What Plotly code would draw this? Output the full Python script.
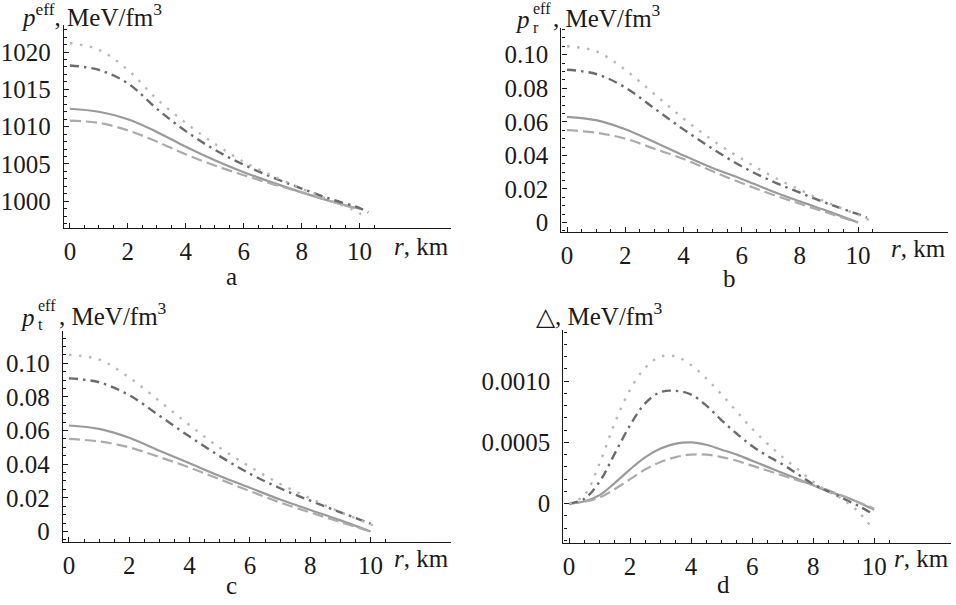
import plotly.graph_objects as go

# ---------------- data ----------------
# panel a: effective pressure p_eff (MeV/fm^3) vs r (km)
a_r_solid = [0, 1, 2, 3, 4, 5, 6, 7, 8, 9, 10]
a_solid = [1012.4, 1012.0, 1011.0, 1009.3, 1007.3, 1005.5, 1003.9, 1002.5, 1001.2, 1000.0, 999.0]
a_r_dashed = [0, 1, 2, 3, 4, 5, 6, 7, 8, 9, 10]
a_dashed = [1010.8, 1010.5, 1009.5, 1008.0, 1006.3, 1004.8, 1003.5, 1002.3, 1001.2, 1000.0, 998.9]
a_r_dashdot = [0, 1, 2, 3, 4, 5, 6, 7, 8, 9, 10, 10.3]
a_dashdot = [1018.2, 1017.6, 1015.8, 1012.4, 1009.4, 1006.9, 1004.9, 1003.2, 1001.7, 1000.3, 999.1, 998.5]
a_r_dotted = [0, 1, 2, 3, 4, 5, 6, 7, 8, 9, 10, 10.25]
a_dotted = [1021.2, 1020.3, 1017.6, 1013.7, 1010.5, 1007.7, 1005.3, 1003.4, 1001.7, 1000.1, 998.4, 997.6]

# panel b: radial effective pressure
b_r_solid = [0, 1, 2, 3, 4, 5, 6, 7, 8, 9, 10]
b_solid = [0.063, 0.061, 0.0556, 0.048, 0.040, 0.0325, 0.026, 0.019, 0.0126, 0.0065, 0.0]
b_r_dashed = [0, 1, 2, 3, 4, 5, 6, 7, 8, 9, 10]
b_dashed = [0.055, 0.0535, 0.050, 0.044, 0.0379, 0.0305, 0.0235, 0.017, 0.0112, 0.0055, 0.0]
b_r_dashdot = [0, 1, 2, 3, 4, 5, 6, 7, 8, 9, 10, 10.3]
b_dashdot = [0.091, 0.0885, 0.0805, 0.068, 0.0555, 0.044, 0.0335, 0.025, 0.0178, 0.011, 0.0050, 0.0030]
b_r_dotted = [0, 1, 2, 3, 4, 5, 6, 7, 8, 9, 10, 10.55]
b_dotted = [0.105, 0.102, 0.091, 0.0765, 0.062, 0.049, 0.038, 0.028, 0.0195, 0.0115, 0.0045, 0.0]

# panel c: tangential effective pressure
c_r_solid = [0, 1, 2, 3, 4, 5, 6, 7, 8, 9, 10]
c_solid = [0.063, 0.061, 0.0557, 0.048, 0.0405, 0.033, 0.026, 0.019, 0.0128, 0.0066, 0.0]
c_r_dashed = [0, 1, 2, 3, 4, 5, 6, 7, 8, 9, 10]
c_dashed = [0.055, 0.0535, 0.050, 0.0442, 0.038, 0.031, 0.024, 0.0172, 0.0113, 0.0056, 0.0]
c_r_dashdot = [0, 1, 2, 3, 4, 5, 6, 7, 8, 9, 10]
c_dashdot = [0.091, 0.0887, 0.081, 0.0688, 0.0564, 0.0448, 0.0343, 0.0257, 0.0183, 0.0114, 0.0046]
c_r_dotted = [0, 1, 2, 3, 4, 5, 6, 7, 8, 9, 10, 10.2]
c_dotted = [0.105, 0.1022, 0.0915, 0.0775, 0.0632, 0.0498, 0.0385, 0.0283, 0.0197, 0.0115, 0.0042, 0.0030]

# panel d: anisotropy
d_r = [0, 0.5, 1, 1.5, 2, 2.5, 3, 3.5, 4, 4.5, 5, 5.5, 6, 6.5, 7, 7.5, 8, 8.5, 9, 9.5, 10]
d_solid = [0, 0.00002, 0.00007, 0.00017, 0.00028, 0.00038, 0.00045, 0.00049, 0.00050, 0.00048,
           0.00044, 0.00040, 0.00035, 0.00030, 0.00025, 0.00020, 0.00015, 0.00010, 0.00006,
           0.00001, -0.00005]
d_dashed = [0, 0.000015, 0.00005, 0.00012, 0.00020, 0.00028, 0.00034, 0.00038, 0.00040, 0.00040,
            0.00038, 0.00035, 0.00031, 0.00027, 0.00023, 0.00019, 0.00015, 0.00011, 0.00006,
            0.00001, -0.00004]
d_dashdot = [0, 0.00004, 0.00018, 0.00041, 0.00064, 0.00082, 0.00091, 0.00092, 0.00089, 0.00080,
             0.00068, 0.00057, 0.00047, 0.00039, 0.00032, 0.00024, 0.00016, 0.00010, 0.00004,
             -0.00002, -0.00009]
d_dotted = [0, 0.00007, 0.00033, 0.00066, 0.00093, 0.00111, 0.00120, 0.00120, 0.00113, 0.00102,
            0.00089, 0.00075, 0.00061, 0.00049, 0.00038, 0.00028, 0.00018, 0.00010, 0.00003,
            -0.00007, -0.00022]

# tick values / labels
x_major = [0, 2, 4, 6, 8, 10]
x_minor = [0.5 * i for i in range(22)]
a_y_major = [1000, 1005, 1010, 1015, 1020]
a_y_minor = list(range(997, 1024))
bc_y_major = [0, 0.02, 0.04, 0.06, 0.08, 0.10]
bc_y_labels = ["0", "0.02", "0.04", "0.06", "0.08", "0.10"]
bc_y_minor = [0.005 * i for i in range(-1, 24)]
d_y_major = [0, 0.0005, 0.0010]
d_y_labels = ["0", "0.0005", "0.0010"]
d_y_minor = [0.0001 * i for i in range(-3, 15)]

# ---------------- layout ----------------
W, H = 956, 605
SERIF = "Liberation Serif"
INK = "#1a1a1a"

styles = {
    "solid": dict(color="#9a9a9a", width=2.2, dash="solid"),
    "dashed": dict(color="#ababab", width=2.2, dash="11px,5px"),
    "dashdot": dict(color="#6b6b6b", width=2.4, dash="9px,5px,2.5px,5px"),
    "dotted": dict(color="#b8b8b8", width=2.4, dash="2.5px,7.5px"),
}

fig = go.Figure()

panels = [
    # suffix, series, plot box (left, right, top, bottom px), x range, y range
    ("", [(a_r_solid, a_solid, "solid"), (a_r_dashed, a_dashed, "dashed"),
          (a_r_dashdot, a_dashdot, "dashdot"), (a_r_dotted, a_dotted, "dotted")],
     (63, 450, 25, 230), (-0.207, 13.14), (996.36, 1023.64),
     a_y_major, None, a_y_minor),
    ("2", [(b_r_solid, b_solid, "solid"), (b_r_dashed, b_dashed, "dashed"),
           (b_r_dashdot, b_dashdot, "dashdot"), (b_r_dotted, b_dotted, "dotted")],
     (561, 948, 28, 234), (-0.192, 13.09), (-0.0059, 0.116),
     bc_y_major, bc_y_labels, bc_y_minor),
    ("3", [(c_r_solid, c_solid, "solid"), (c_r_dashed, c_dashed, "dashed"),
           (c_r_dashdot, c_dashdot, "dashdot"), (c_r_dotted, c_dotted, "dotted")],
     (62, 450, 333, 546), (-0.199, 12.65), (-0.0065, 0.1193),
     bc_y_major, bc_y_labels, bc_y_minor),
    ("4", [(d_r, d_solid, "solid"), (d_r, d_dashed, "dashed"),
           (d_r, d_dashdot, "dashdot"), (d_r, d_dotted, "dotted")],
     (563, 951, 332, 547), (-0.187, 12.52), (-0.000324, 0.001418),
     d_y_major, d_y_labels, d_y_minor),
]

axis_common = dict(
    showline=True, linecolor=INK, linewidth=1.3,
    ticks="inside", ticklen=5, tickwidth=1, tickcolor=INK,
    showgrid=False, zeroline=False,
    tickfont=dict(family=SERIF, size=25, color=INK),
)

for suf, series, box, xr, yr, ymaj, ylab, ymin in panels:
    left, right, top, bottom = box
    for xs, ys, kind in series:
        fig.add_trace(go.Scatter(
            x=xs, y=ys, mode="lines",
            line=dict(shape="spline", smoothing=1.0, **styles[kind]),
            xaxis="x" + suf, yaxis="y" + suf, showlegend=False, hoverinfo="skip",
        ))
    fig.layout["xaxis" + suf] = dict(
        axis_common, domain=[left / W, right / W], range=list(xr),
        anchor="y" + suf, tickmode="array", tickvals=x_major,
        ticklabelstandoff=0,
        minor=dict(ticks="inside", ticklen=3, tickwidth=1, tickcolor=INK,
                   tickmode="array", tickvals=x_minor),
    )
    ydict = dict(
        axis_common, domain=[1 - bottom / H, 1 - top / H], range=list(yr),
        anchor="x" + suf, tickmode="array", tickvals=ymaj,
        ticklabelstandoff=7,
        minor=dict(ticks="inside", ticklen=3, tickwidth=1, tickcolor=INK,
                   tickmode="array", tickvals=ymin),
    )
    if ylab is not None:
        ydict["ticktext"] = ylab
    fig.layout["yaxis" + suf] = ydict


def note(text, x, y, size=25, xanchor="left", yanchor="middle", pad=1):
    fig.add_annotation(
        text=text, x=x / W, y=1 - y / H, xref="paper", yref="paper",
        xanchor=xanchor, yanchor=yanchor, showarrow=False, borderpad=pad,
        font=dict(family=SERIF, size=size, color=INK),
    )


# axis titles (stacked super/subscripts built from separate pieces)
note("<i>p</i><sup>eff</sup>, MeV/fm<sup>3</sup>", 18, 15)
note("<i>p</i>", 531, 20, xanchor="right", pad=0)
note("eff", 532, 9, size=16, pad=0)
note("r", 532, 28, size=16, pad=0)
note(", MeV/fm<sup>3</sup>", 551, 16)
note("<i>p</i>", 35, 320, xanchor="right", pad=0)
note("eff", 36, 308, size=16, pad=0)
note("t", 36, 327, size=16, pad=0)
note(", MeV/fm<sup>3</sup>", 56, 316)
note("△, MeV/fm<sup>3</sup>", 534, 316)

for xr_px, yr_px in [(450, 248), (948, 250), (450, 562), (951, 562)]:
    note("<i>r</i>, km", xr_px, yr_px, xanchor="right")

# panel letters
note("a", 231, 278, xanchor="center")
note("b", 729, 280, xanchor="center")
note("c", 231, 589, xanchor="center")
note("d", 723, 588, xanchor="center")

fig.update_layout(
    width=W, height=H, margin=dict(l=0, r=0, t=0, b=0),
    paper_bgcolor="white", plot_bgcolor="white", showlegend=False,
)

fig.write_html("out.html")
